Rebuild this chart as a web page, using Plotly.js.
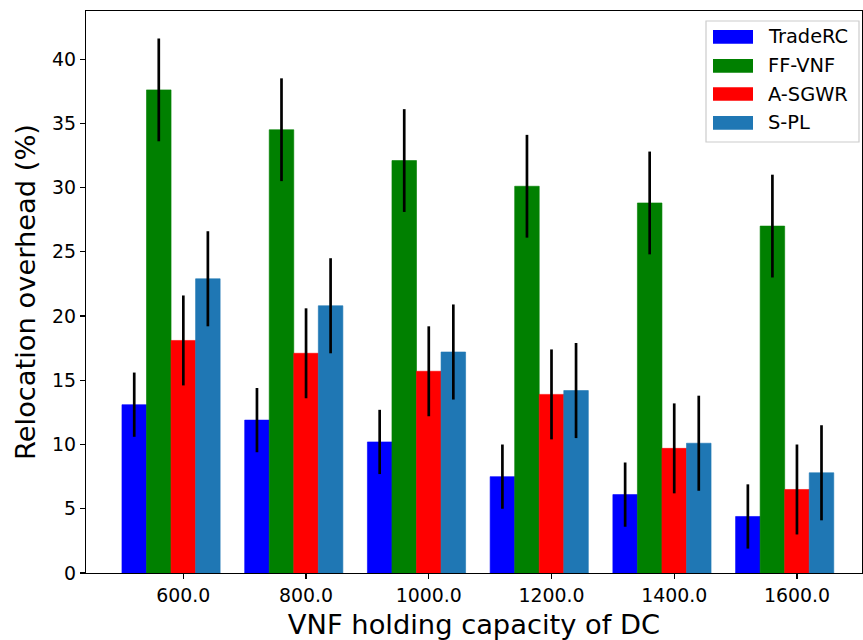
<!DOCTYPE html>
<html>
<head>
<meta charset="utf-8">
<script src="https://cdn.plot.ly/plotly-3.0.1.min.js"></script>
<style>
  html, body { margin: 0; padding: 0; background: #ffffff; }
  #chart { width: 863px; height: 640px; }
</style>
</head>
<body>
<div id="chart"></div>
<script>
// ---- data ----
const capacities = [600, 800, 1000, 1200, 1400, 1600];
const tickLabels = ["600.0", "800.0", "1000.0", "1200.0", "1400.0", "1600.0"];
const seriesNames = ["TradeRC", "FF-VNF", "A-SGWR", "S-PL"];

const tradeRC     = [13.1, 11.9, 10.2, 7.5, 6.1, 4.4];
const tradeRCErr  = [2.5, 2.5, 2.5, 2.5, 2.5, 2.5];
const ffVNF       = [37.6, 34.5, 32.1, 30.1, 28.8, 27.0];
const ffVNFErr    = [4.0, 4.0, 4.0, 4.0, 4.0, 4.0];
const aSGWR       = [18.1, 17.1, 15.7, 13.9, 9.7, 6.5];
const aSGWRErr    = [3.5, 3.5, 3.5, 3.5, 3.5, 3.5];
const sPL         = [22.9, 20.8, 17.2, 14.2, 10.1, 7.8];
const sPLErr      = [3.7, 3.7, 3.7, 3.7, 3.7, 3.7];

const seriesValues = [tradeRC, ffVNF, aSGWR, sPL];
const seriesErrors = [tradeRCErr, ffVNFErr, aSGWRErr, sPLErr];
const seriesColors = ["#0000ff", "#008000", "#ff0000", "#1f77b4"];

// ---- styling ----
const W = 863, H = 640;
const M = { l: 86, r: 1, t: 11, b: 67 };
const plotW = W - M.l - M.r, plotH = H - M.t - M.b;
const px2x = (px) => (px - M.l) / plotW;     // pixel -> paper x
const py2y = (py) => (H - M.b - py) / plotH; // pixel -> paper y

const barWidth = 40;            // in x data units
const groupStart = -100;        // offset of first bar's left edge from the category value
const fontFamily = "DejaVu Sans, sans-serif";
const tickSize = 18.9;
const legendSize = 19.4;
const titleSize = 27.3;

const traces = seriesNames.map((name, i) => ({
  type: "bar",
  name: name,
  x: capacities,
  y: seriesValues[i],
  width: barWidth,
  offset: groupStart + i * barWidth,
  showlegend: false,
  marker: { color: seriesColors[i], line: { width: 0.6, color: seriesColors[i] } },
  error_y: {
    type: "data",
    array: seriesErrors[i],
    visible: true,
    color: "#000000",
    thickness: 2.7,
    width: 0
  }
}));

// ---- legend drawn in the matplotlib style (wide swatches) ----
const legendBox = { x0: 706, x1: 859, y0: 21, y1: 142 };
const swatch = { x0: 713, x1: 753, h: 13.7 };
const rowCenters = [36.8, 65.8, 94, 122.9];
const textX = 766;

const shapes = [{
  type: "rect", xref: "paper", yref: "paper", layer: "above",
  x0: px2x(legendBox.x0), x1: px2x(legendBox.x1),
  y0: py2y(legendBox.y1), y1: py2y(legendBox.y0),
  fillcolor: "rgba(255,255,255,0.8)",
  line: { color: "#cccccc", width: 1.2 }
}];
const annotations = [];
seriesNames.forEach((name, i) => {
  const cy = rowCenters[i];
  shapes.push({
    type: "rect", xref: "paper", yref: "paper", layer: "above",
    x0: px2x(swatch.x0), x1: px2x(swatch.x1),
    y0: py2y(cy + swatch.h / 2), y1: py2y(cy - swatch.h / 2),
    fillcolor: seriesColors[i],
    line: { width: 0 }
  });
  annotations.push({
    xref: "paper", yref: "paper",
    x: px2x(textX), y: py2y(cy),
    xanchor: "left", yanchor: "middle",
    showarrow: false,
    text: name,
    font: { family: fontFamily, size: legendSize, color: "#000000" }
  });
});

const axisCommon = {
  showline: true,
  linecolor: "#000000",
  linewidth: 1.1,
  mirror: true,
  ticks: "outside",
  ticklen: 5,
  tickwidth: 1.1,
  tickcolor: "#000000",
  showgrid: false,
  zeroline: false,
  tickfont: { family: fontFamily, size: tickSize, color: "#000000" }
};

const layout = {
  width: W,
  height: H,
  paper_bgcolor: "#ffffff",
  plot_bgcolor: "#ffffff",
  margin: { l: M.l, r: M.r, t: M.t, b: M.b, pad: 0 },
  barmode: "overlay",
  font: { family: fontFamily, color: "#000000" },
  xaxis: Object.assign({}, axisCommon, {
    range: [441.4, 1706],
    tickmode: "array",
    tickvals: capacities,
    ticktext: tickLabels,
    title: { text: "VNF holding capacity of DC", font: { family: fontFamily, size: titleSize, color: "#000000" }, standoff: 10 }
  }),
  yaxis: Object.assign({}, axisCommon, {
    range: [0, 43.74],
    tickmode: "array",
    tickvals: [0, 5, 10, 15, 20, 25, 30, 35, 40],
    title: { text: "Relocation overhead (%)", font: { family: fontFamily, size: titleSize, color: "#000000" }, standoff: 8 }
  }),
  shapes: shapes,
  annotations: annotations,
  showlegend: false
};

Plotly.newPlot("chart", traces, layout, { displayModeBar: false, staticPlot: true });
</script>
</body>
</html>
